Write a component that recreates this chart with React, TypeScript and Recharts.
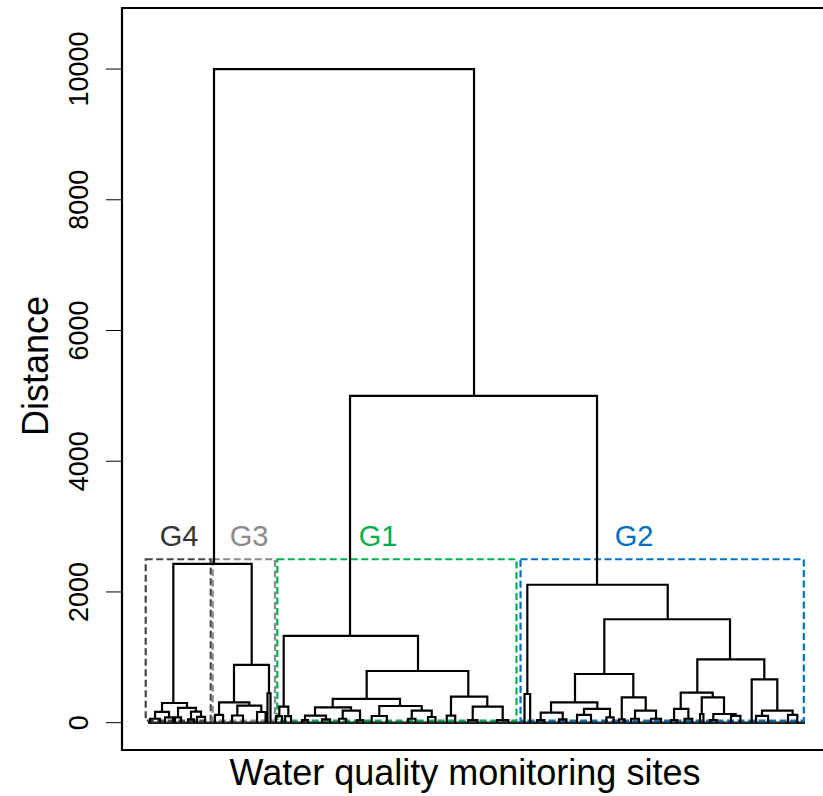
import React from 'react';
import {
  ComposedChart,
  Line,
  XAxis,
  YAxis,
  ReferenceArea,
  ReferenceDot,
  Label,
} from 'recharts';

// Dendrogram merges: [left position, right position, merge distance, left child distance, right child distance]
const merges: [number, number, number, number, number][] = [
  [9.8, 49.62, 10000, 2430, 5000],
  [3.57, 15.57, 2430, 301, 883],
  // G4
  [1.84, 5.67, 301, 164, 225],
  [0.77, 2.91, 164, 60, 80],
  [0.0, 1.53, 60, 0, 0],
  [2.3, 3.52, 80, 0, 0],
  [4.29, 7.04, 225, 80, 170],
  [3.83, 4.75, 80, 0, 0],
  [6.28, 7.81, 170, 50, 90],
  [5.82, 6.74, 50, 0, 0],
  [7.2, 8.42, 90, 0, 0],
  // G3
  [12.86, 18.22, 883, 312, 450],
  [10.57, 15.21, 312, 118, 260],
  [9.95, 11.19, 118, 0, 0],
  [13.37, 17.04, 260, 110, 163],
  [12.56, 14.24, 110, 0, 0],
  [16.39, 17.7, 163, 0, 0],
  [17.99, 18.45, 450, 0, 0],
  // G1 + G2
  [30.63, 68.45, 5000, 1327, 2110],
  // G1
  [20.47, 41.04, 1327, 245, 791],
  [19.8, 21.18, 245, 100, 100],
  [19.3, 20.21, 100, 0, 0],
  [20.67, 21.59, 100, 0, 0],
  [33.18, 48.74, 791, 363, 398],
  [27.98, 38.28, 363, 235, 255],
  [25.27, 30.78, 235, 107, 184],
  [23.74, 26.95, 107, 40, 50],
  [23.28, 24.2, 40, 0, 0],
  [26.34, 27.57, 50, 0, 0],
  [29.51, 32.16, 184, 60, 40],
  [28.94, 30.02, 60, 0, 0],
  [31.7, 32.62, 40, 0, 0],
  [35.11, 41.61, 255, 102, 184],
  [33.95, 36.27, 102, 0, 0],
  [40.08, 43.14, 184, 60, 87],
  [39.51, 40.65, 60, 0, 0],
  [42.57, 43.71, 87, 0, 0],
  [46.09, 51.65, 398, 107, 245],
  [45.44, 46.74, 107, 0, 0],
  [49.42, 54.01, 245, 40, 40],
  [48.7, 50.14, 40, 0, 0],
  [53.14, 54.88, 40, 0, 0],
  // G2
  [57.78, 79.28, 2110, 439, 1582],
  [57.35, 58.21, 439, 0, 0],
  [69.57, 88.82, 1582, 745, 970],
  [65.08, 74.01, 745, 312, 388],
  [61.41, 68.5, 312, 153, 210],
  [59.83, 63.2, 153, 40, 50],
  [59.26, 60.4, 40, 0, 0],
  [62.63, 63.77, 50, 0, 0],
  [66.46, 70.44, 210, 118, 80],
  [65.39, 67.53, 118, 0, 0],
  [69.88, 71.0, 80, 0, 0],
  [72.24, 75.91, 388, 50, 184],
  [71.82, 72.66, 50, 0, 0],
  [74.27, 77.49, 184, 60, 60],
  [73.66, 74.88, 60, 0, 0],
  [76.72, 78.26, 60, 0, 0],
  [83.81, 94.07, 970, 459, 664],
  [81.27, 86.17, 459, 210, 388],
  [80.25, 82.44, 210, 40, 60],
  [79.79, 80.71, 40, 0, 0],
  [81.85, 83.03, 60, 0, 0],
  [84.49, 87.9, 388, 133, 133],
  [84.23, 84.75, 133, 0, 0],
  [86.26, 89.69, 133, 40, 105],
  [85.76, 86.76, 40, 0, 0],
  [88.97, 90.41, 105, 0, 0],
  [92.14, 96.06, 664, 0, 184],
  [93.72, 98.41, 184, 103, 118],
  [92.8, 94.64, 103, 0, 0],
  [97.7, 99.12, 118, 0, 0],
];

// Span of the leaves (sites) along the x axis
const leafSpan = [-0.3, 100.3];

// Cluster groups
const groupNames = ['G4', 'G3', 'G1', 'G2'];
const groupStart = [-0.66, 9.6, 19.49, 56.74];
const groupEnd = [9.3, 19.14, 56.12, 100.12];
const groupBottom = 30;
const groupTop = 2500;
const groupLabelPos = [4.44, 15.16, 34.92, 74.12];
const groupLabelHeight = 2857;

const yTicks = [0, 2000, 4000, 6000, 8000, 10000];
const xDomain: [number, number] = [-4.29, 104.13];
const yDomain: [number, number] = [-418, 10934];

const groupColors = ['#333333', '#8a8a8a', '#00b050', '#0070c0'];
const boxColors = ['#444444', '#8a8a8a', '#00b050', '#0070c0'];

const FONT = 'Liberation Sans, Arial, Helvetica, sans-serif';

const lineData = merges.flatMap(([l, r, h, hl, hr]) => [
  { x: l, y: hl },
  { x: l, y: h },
  { x: r, y: h },
  { x: r, y: hr },
  { x: r, y: null as number | null },
]);

const baseData = [
  { x: leafSpan[0], y: 0 },
  { x: leafSpan[1], y: 0 },
];

const YTick = (props: any) => {
  const { x, y, payload } = props;
  const cx = x - 25;
  return (
    <text
      x={cx}
      y={y}
      transform={`rotate(-90, ${cx}, ${y})`}
      textAnchor="middle"
      dominantBaseline="central"
      fontSize={27}
      fontFamily={FONT}
      fill="#000"
    >
      {payload.value}
    </text>
  );
};

const YTitle = (props: any) => {
  const { viewBox } = props;
  const cx = viewBox.x + 35;
  const cy = 366;
  return (
    <text
      x={cx}
      y={cy}
      transform={`rotate(-90, ${cx}, ${cy})`}
      textAnchor="middle"
      dominantBaseline="central"
      fontSize={36}
      fontFamily={FONT}
      fill="#000"
    >
      Distance
    </text>
  );
};

const XTitle = (props: any) => {
  const { viewBox } = props;
  return (
    <text
      x={465}
      y={viewBox.y + 35}
      textAnchor="middle"
      fontSize={36}
      fontFamily={FONT}
      fill="#000"
    >
      Water quality monitoring sites
    </text>
  );
};

export default function App() {
  return (
    <div
      style={{
        position: 'absolute',
        left: 0,
        top: 0,
        width: 823,
        height: 796,
        overflow: 'hidden',
        background: '#fff',
      }}
    >
      <ComposedChart
        width={840}
        height={796}
        margin={{ top: 8, right: 10, bottom: 0, left: 0 }}
      >
        <XAxis
          dataKey="x"
          type="number"
          domain={xDomain}
          allowDataOverflow
          tick={false}
          tickLine={false}
          axisLine={false}
          height={46}
        >
          <Label content={<XTitle />} />
        </XAxis>
        <YAxis
          type="number"
          domain={yDomain}
          allowDataOverflow
          ticks={yTicks}
          width={122}
          tickSize={16}
          tickLine={{ stroke: '#000', strokeWidth: 1 }}
          axisLine={false}
          tick={<YTick />}
          interval={0}
        >
          <Label content={<YTitle />} />
        </YAxis>
        <ReferenceArea
          x1={xDomain[0]}
          x2={xDomain[1]}
          y1={yDomain[0]}
          y2={yDomain[1]}
          stroke="#000"
          strokeWidth={2.2}
          fill="none"
          fillOpacity={0}
          ifOverflow="visible"
        />
        <Line
          data={baseData}
          dataKey="y"
          type="linear"
          stroke="#222"
          strokeWidth={2.4}
          dot={false}
          activeDot={false}
          isAnimationActive={false}
        />
        <Line
          data={lineData}
          dataKey="y"
          type="linear"
          stroke="#000"
          strokeWidth={2.2}
          dot={false}
          activeDot={false}
          connectNulls={false}
          isAnimationActive={false}
        />
        {groupNames.map((g, i) => (
          <ReferenceArea
            key={g}
            x1={groupStart[i]}
            x2={groupEnd[i]}
            y1={groupBottom}
            y2={groupTop}
            stroke={boxColors[i]}
            strokeWidth={2.2}
            strokeDasharray="7 3.5"
            fill="none"
            fillOpacity={0}
            ifOverflow="visible"
          />
        ))}
        {groupNames.map((g, i) => (
          <ReferenceDot
            key={'l' + g}
            x={groupLabelPos[i]}
            y={groupLabelHeight}
            r={0}
            fill="none"
            stroke="none"
            ifOverflow="visible"
            label={{
              value: g,
              position: 'center',
              fill: groupColors[i],
              fontSize: 29,
              fontFamily: FONT,
            }}
          />
        ))}
      </ComposedChart>
    </div>
  );
}
